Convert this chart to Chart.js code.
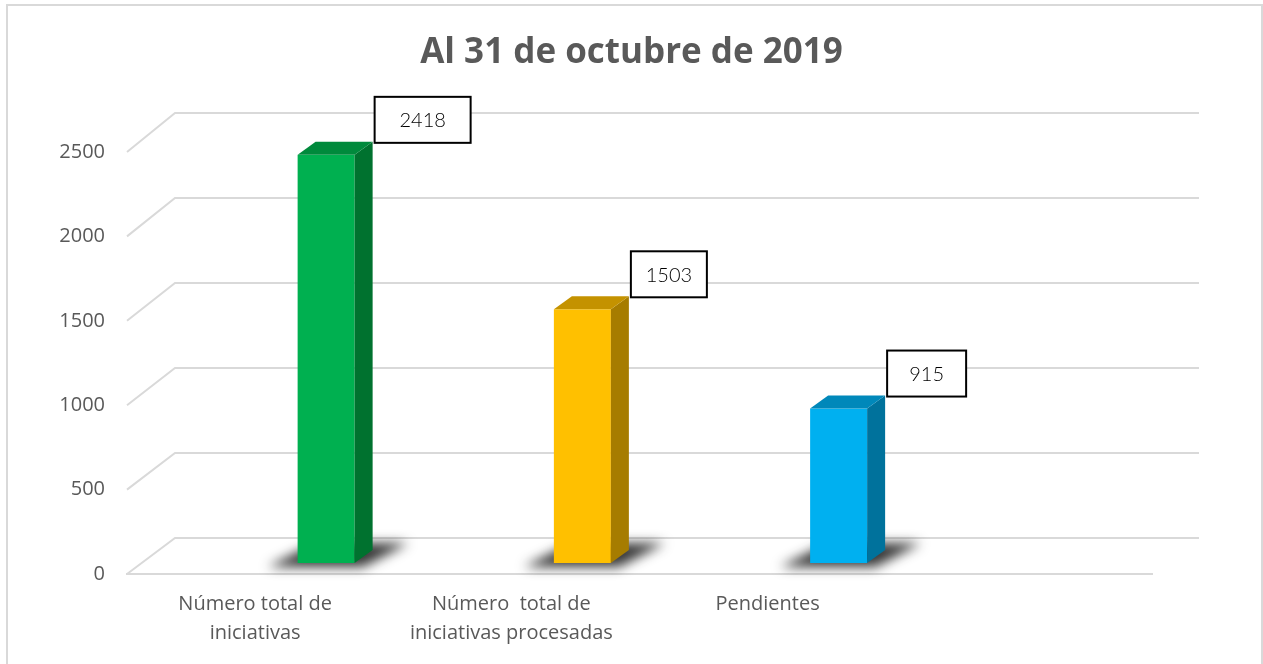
<!DOCTYPE html>
<html>
<head>
<meta charset="utf-8">
<script src="https://cdn.jsdelivr.net/npm/chart.js@4.4.1/dist/chart.umd.min.js"></script>
<style>
  html, body { margin: 0; padding: 0; background: #fff; }
  #wrap { width: 1263px; height: 664px; position: relative; }
</style>
</head>
<body>
<div id="wrap"><canvas id="chart"></canvas></div>
<script>
const categories = [['Número total de', 'iniciativas'], ['Número  total de', 'iniciativas procesadas'], 'Pendientes', ''];
const values = [2418, 1503, 915, null];
const yMax = 2500;
const yStep = 500;

const frontColors = ['#00B050', '#FFC000', '#00B0F0'];
const sideColors = ['#00722F', '#A67C00', '#00729C'];
const topColors = ['#008A3C', '#C49200', '#0088BA'];
const labelBoxWidths = [96, 76, 79];

const gridColor = '#d9d9d9';
const textGray = '#595959';

// 3d look: back wall offset and bar placement
const WALL_DX = 48, WALL_DY = -36;
const BAR_DX = 71, BAR_DY = -11;
const SIDE_DX = 18, SIDE_DY = -13;

const depthPlugin = {
    id: 'depth',
    beforeDraw(chart) {
        const ctx = chart.ctx;
        ctx.save();
        ctx.strokeStyle = gridColor;
        ctx.lineWidth = 2;
        ctx.strokeRect(7, 5, 1255, 700);
        ctx.restore();
    },
    beforeDatasetsDraw(chart) {
        const ctx = chart.ctx;
        const area = chart.chartArea;
        const y = chart.scales.y;
        ctx.save();
        ctx.strokeStyle = gridColor;
        ctx.lineWidth = 2;
        y.ticks.forEach(function(t) {
            const fy = y.getPixelForValue(t.value);
            const by = fy + WALL_DY - (area.bottom - fy) * 0.007;
            ctx.beginPath();
            ctx.moveTo(area.left, fy);
            ctx.lineTo(area.left + WALL_DX, by);
            ctx.lineTo(area.right + WALL_DX - 1, by);
            ctx.stroke();
        });
        ctx.restore();
    },
    afterDatasetsDraw(chart) {
        const ctx = chart.ctx;
        const meta = chart.getDatasetMeta(0);
        meta.data.forEach(function(el, i) {
            if (values[i] === null) return;
            const l = el.x - el.width / 2 + BAR_DX;
            const r = el.x + el.width / 2 + BAR_DX;
            const top = el.y + BAR_DY;
            const bot = el.base + BAR_DY;

            // floor shadow
            ctx.save();
            ctx.filter = 'blur(6px)';
            ctx.fillStyle = 'rgba(20,20,20,0.85)';
            ctx.beginPath();
            ctx.moveTo(l - 30, bot + 4);
            ctx.lineTo(r + 8, bot + 4);
            ctx.lineTo(r + 54, bot - 20);
            ctx.lineTo(l + 18, bot - 20);
            ctx.closePath();
            ctx.fill();
            ctx.restore();

            ctx.save();
            // front
            ctx.fillStyle = frontColors[i];
            ctx.fillRect(l, top, r - l, bot - top);
            // side
            ctx.fillStyle = sideColors[i];
            ctx.beginPath();
            ctx.moveTo(r, top);
            ctx.lineTo(r + SIDE_DX, top + SIDE_DY);
            ctx.lineTo(r + SIDE_DX, bot + SIDE_DY);
            ctx.lineTo(r, bot);
            ctx.closePath();
            ctx.fill();
            // top
            ctx.fillStyle = topColors[i];
            ctx.beginPath();
            ctx.moveTo(l, top);
            ctx.lineTo(l + SIDE_DX, top + SIDE_DY);
            ctx.lineTo(r + SIDE_DX, top + SIDE_DY);
            ctx.lineTo(r, top);
            ctx.closePath();
            ctx.fill();

            // data label box
            const bx = r + SIDE_DX + 2;
            const bb = top + SIDE_DY + 1;
            const bw = labelBoxWidths[i];
            const bh = 46;
            ctx.fillStyle = '#ffffff';
            ctx.fillRect(bx, bb - bh, bw, bh);
            ctx.strokeStyle = '#000000';
            ctx.lineWidth = 2;
            ctx.strokeRect(bx, bb - bh, bw, bh);
            ctx.fillStyle = '#000000';
            ctx.font = '300 20px Lato';
            ctx.textAlign = 'center';
            ctx.textBaseline = 'middle';
            ctx.fillText(String(values[i]), bx + bw / 2, bb - bh / 2 + 1);
            ctx.restore();
        });
    }
};

const ctx = document.getElementById('chart').getContext('2d');
const chart = new Chart(ctx, {
    type: 'bar',
    data: {
        labels: categories,
        datasets: [{
            data: values,
            backgroundColor: 'rgba(0,0,0,0)',
            borderWidth: 0,
            barThickness: 57
        }]
    },
    options: {
        responsive: true,
        maintainAspectRatio: false,
        animation: false,
        layout: {
            padding: 0
        },
        plugins: {
            legend: { display: false },
            tooltip: { enabled: false },
            title: {
                display: true,
                text: 'Al 31 de octubre de 2019',
                color: textGray,
                font: { family: 'Open Sans', size: 35, weight: 'bold', lineHeight: 1.2 },
                padding: { top: 32, bottom: 78 }
            }
        },
        scales: {
            x: {
                grid: { display: false, drawTicks: false },
                border: { display: true, color: gridColor, width: 2 },
                ticks: {
                    color: textGray,
                    padding: 16,
                    maxRotation: 0,
                    autoSkip: false,
                    font: { family: 'Open Sans', size: 20, lineHeight: 1.45 }
                },
                afterFit: function(scale) { scale.height = 90; }
            },
            y: {
                min: 0,
                max: yMax,
                grid: { display: false, drawTicks: false },
                border: { display: false },
                ticks: {
                    stepSize: yStep,
                    color: textGray,
                    padding: 22,
                    font: { family: 'Open Sans', size: 20 },
                    callback: function(v) { return String(v); }
                },
                afterFit: function(scale) { scale.width = 127; }
            },
            // empty right side, keeps the title centred on the whole frame
            yRight: {
                position: 'right',
                grid: { display: false, drawTicks: false },
                border: { display: false },
                ticks: { display: false },
                afterFit: function(scale) { scale.width = 111; }
            }
        }
    },
    plugins: [depthPlugin]
});
</script>
</body>
</html>
